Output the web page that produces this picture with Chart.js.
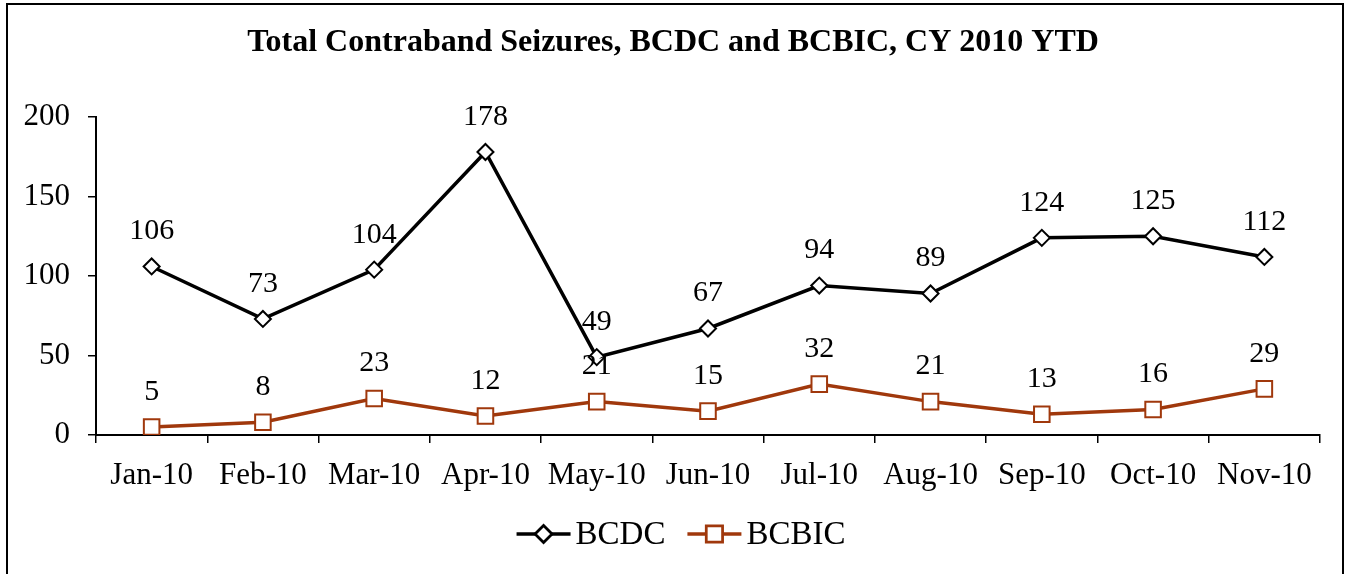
<!DOCTYPE html>
<html>
<head>
<meta charset="utf-8">
<script src="https://cdn.jsdelivr.net/npm/chart.js@4/dist/chart.umd.min.js"></script>
<style>
  html, body { margin: 0; padding: 0; background: #fff; }
  #wrap { position: relative; width: 1351px; height: 574px; }
</style>
</head>
<body>
<div id="wrap"><canvas id="seizures-chart" width="1351" height="574"></canvas></div>
<script>
const months = ['Jan-10', 'Feb-10', 'Mar-10', 'Apr-10', 'May-10', 'Jun-10', 'Jul-10', 'Aug-10', 'Sep-10', 'Oct-10', 'Nov-10'];
const bcdc = [106, 73, 104, 178, 49, 67, 94, 89, 124, 125, 112];
const bcbic = [5, 8, 23, 12, 21, 15, 32, 21, 13, 16, 29];
const yTicks = [0, 50, 100, 150, 200];
const chartTitle = 'Total Contraband Seizures, BCDC and BCBIC, CY 2010 YTD';

const FONT = '"Liberation Serif", "Times New Roman", serif';
const BROWN = '#A0380C';

// frame, title, value labels and the bottom legend
const extras = {
    id: 'extras',
    beforeDraw(chart) {
        const ctx = chart.ctx;
        ctx.save();
        ctx.strokeStyle = '#000';
        ctx.lineWidth = 2;
        ctx.strokeRect(7, 4, 1336, 600);
        ctx.fillStyle = '#000';
        ctx.font = 'bold 32px ' + FONT;
        ctx.textAlign = 'center';
        ctx.textBaseline = 'middle';
        ctx.fillText(chartTitle, 673, 43);
        ctx.restore();
    },
    afterDatasetsDraw(chart) {
        const ctx = chart.ctx;
        ctx.save();
        ctx.fillStyle = '#000';
        ctx.font = '30px ' + FONT;
        ctx.textAlign = 'center';
        ctx.textBaseline = 'middle';
        chart.data.datasets.forEach((ds, i) => {
            chart.getDatasetMeta(i).data.forEach((pt, j) => {
                ctx.fillText(String(ds.data[j]), pt.x, pt.y - 35);
            });
        });
        ctx.restore();
    },
    afterDraw(chart) {
        const ctx = chart.ctx;
        ctx.save();
        ctx.font = '33px ' + FONT;
        ctx.textBaseline = 'middle';
        const items = chart.data.datasets;
        const seg = 54, gap = 5, between = 22;
        let total = 0;
        items.forEach((ds, i) => {
            total += seg + gap + ctx.measureText(ds.label).width + (i ? 0 : between);
        });
        let x = 681 - total / 2;
        const y = 534;
        items.forEach(ds => {
            ctx.strokeStyle = ds.borderColor;
            ctx.lineWidth = 3.5;
            ctx.beginPath();
            ctx.moveTo(x, y);
            ctx.lineTo(x + seg, y);
            ctx.stroke();
            Chart.helpers.drawPoint(ctx, {
                pointStyle: ds.pointStyle,
                radius: ds.pointRadius,
                borderWidth: ds.pointBorderWidth
            }, x + seg / 2, y);
            ctx.fillStyle = '#fff';
            ctx.strokeStyle = ds.pointBorderColor;
            ctx.lineWidth = ds.pointBorderWidth;
            ctx.fill();
            ctx.stroke();
            ctx.fillStyle = '#000';
            ctx.fillText(ds.label, x + seg + gap, y + 1);
            x += seg + gap + ctx.measureText(ds.label).width + between;
        });
        ctx.restore();
    }
};

const ctx = document.getElementById('seizures-chart');

new Chart(ctx, {
    type: 'line',
    data: {
        labels: months,
        datasets: [{
            label: 'BCDC',
            data: bcdc,
            borderColor: '#000',
            borderWidth: 3.5,
            pointStyle: 'rectRot',
            pointRadius: 8,
            pointBorderWidth: 2,
            pointBorderColor: '#000',
            pointBackgroundColor: '#fff',
            tension: 0,
        }, {
            label: 'BCBIC',
            data: bcbic,
            borderColor: BROWN,
            borderWidth: 3.5,
            pointStyle: 'rect',
            pointRadius: 11,
            pointBorderWidth: 2,
            pointBorderColor: BROWN,
            pointBackgroundColor: '#fff',
            tension: 0,
        }]
    },
    options: {
        responsive: false,
        animation: false,
        devicePixelRatio: 1,
        layout: { padding: { top: 117, right: 31, bottom: 0, left: 0 } },
        plugins: {
            legend: { display: false },
            title: { display: false },
            tooltip: { enabled: false }
        },
        scales: {
            x: {
                offset: true,
                grid: {
                    offset: true,
                    drawOnChartArea: false,
                    drawTicks: true,
                    tickLength: 8,
                    color: '#000',
                    lineWidth: 1.5
                },
                border: { display: true, color: '#000', width: 2 },
                ticks: {
                    color: '#000',
                    padding: 14,
                    maxRotation: 0,
                    font: { family: FONT, size: 31 }
                },
                afterFit: scale => { scale.height = 139; }
            },
            y: {
                min: 0,
                max: 200,
                afterBuildTicks: scale => { scale.ticks = yTicks.map(v => ({ value: v })); },
                grid: {
                    drawOnChartArea: false,
                    drawTicks: true,
                    tickLength: 8,
                    color: '#000',
                    lineWidth: 1.5
                },
                border: { display: true, color: '#000', width: 2 },
                ticks: {
                    color: '#000',
                    padding: 18,
                    font: { family: FONT, size: 31 }
                },
                afterFit: scale => { scale.width = 96; }
            }
        }
    },
    plugins: [extras]
});
</script>
</body>
</html>
